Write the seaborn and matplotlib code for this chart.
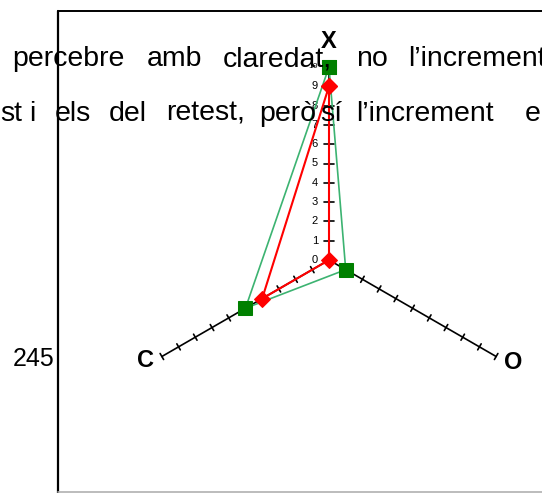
import numpy as np
import pandas as pd
import matplotlib
matplotlib.use("Agg")
import matplotlib.pyplot as plt
import seaborn as sns

# radar axes and series
axis_names = ['X', 'O', 'C']
axis_angles = [90, -30, 210]
green_values = [10, 1, 5]
red_values = [9, 0, 4]
scale_ticks = list(range(0, 11))

# background page text (words of a justified paragraph)
line1_words = ['percebre', 'amb', 'claredat,', 'no', 'l\u2019increment']
line2_words = ['st', 'i', 'els', 'del', 'retest,', 'per\u00f2', 's\u00ed', 'l\u2019increment', 'e']
side_number = '245'

sns.set_style("white")
plt.rcParams['font.family'] = ['Liberation Sans', 'DejaVu Sans']
plt.rcParams['text.color'] = 'black'

W, H = 542, 493
cx, cy, unit = 329, 260, 19.3

fig = plt.figure(figsize=(W / 100, H / 100), dpi=100)
ax = fig.add_axes([0, 0, 1, 1])
ax.set_xlim(-cx / unit, (W - cx) / unit)
ax.set_ylim(-(H - cy) / unit, cy / unit)
ax.axis('off')


def px(x, y):
    return x / W, 1 - y / H


# page text behind the chart
x1 = [12, 147, 223, 356, 408]
x2 = [0, 29, 55, 109, 166, 259, 320, 356, 525]
for w, x in zip(line1_words, x1):
    fig.text(*px(x, 66), w, fontsize=20.5, va='baseline', ha='left', zorder=0)
for w, x in zip(line2_words, x2):
    fig.text(*px(x, 121), w, fontsize=20.5, va='baseline', ha='left', zorder=0)
fig.text(*px(13, 366), side_number, fontsize=18, va='baseline', ha='left')

# frame of the embedded chart
fig.add_artist(plt.Line2D([58 / W, 58 / W], [0, 1 - 11 / H], color='black', lw=1.6))
fig.add_artist(plt.Line2D([58 / W, 1], [1 - 11 / H, 1 - 11 / H], color='black', lw=1.4))
fig.add_artist(plt.Line2D([58 / W, 1], [1 - 492 / H, 1 - 492 / H], color='#b0b0b0', lw=1.2))

rad = np.deg2rad(axis_angles)
rmax = scale_ticks[-1]

# spokes with tick marks
for i, a in enumerate(rad):
    ax.plot([0, rmax * np.cos(a)], [0, rmax * np.sin(a)], color='black', lw=1.2, zorder=2)
    half = 0.27 if i == 0 else 0.18
    px_, py_ = -np.sin(a), np.cos(a)
    for t in scale_ticks[1:]:
        tx, ty = t * np.cos(a), t * np.sin(a)
        ax.plot([tx - half * px_, tx + half * px_], [ty - half * py_, ty + half * py_],
                color='black', lw=1.2, zorder=2)

# scale labels on the X spoke
for t in scale_ticks:
    ax.annotate(str(t), xy=(0, t), xytext=(-8, 0), textcoords='offset points',
                ha='right', va='center', fontsize=6 if t == 10 else 8)

# axis titles
offsets = [(0, 18), (12, -4), (-12, -3)]
for name, a, off in zip(axis_names, rad, offsets):
    ax.annotate(name, xy=(rmax * np.cos(a), rmax * np.sin(a)), xytext=off,
                textcoords='offset points', ha='center', va='center',
                fontsize=17, fontweight='bold')


def polygon(values):
    v = np.array(values + values[:1], dtype=float)
    a = np.concatenate([rad, rad[:1]])
    return pd.DataFrame({'x': v * np.cos(a), 'y': v * np.sin(a)})


sns.lineplot(data=polygon(green_values), x='x', y='y', sort=False, estimator=None,
             color='#3CB371', lw=1.2, marker='s', markersize=9.5,
             markerfacecolor='#008000', markeredgecolor='#008000', ax=ax, zorder=3)
sns.lineplot(data=polygon(red_values), x='x', y='y', sort=False, estimator=None,
             color='red', lw=1.5, marker='D', markersize=8,
             markerfacecolor='red', markeredgecolor='red', ax=ax, zorder=4)
ax.set_xlim(-cx / unit, (W - cx) / unit)
ax.set_ylim(-(H - cy) / unit, cy / unit)

fig.savefig('out.png', dpi=100)
